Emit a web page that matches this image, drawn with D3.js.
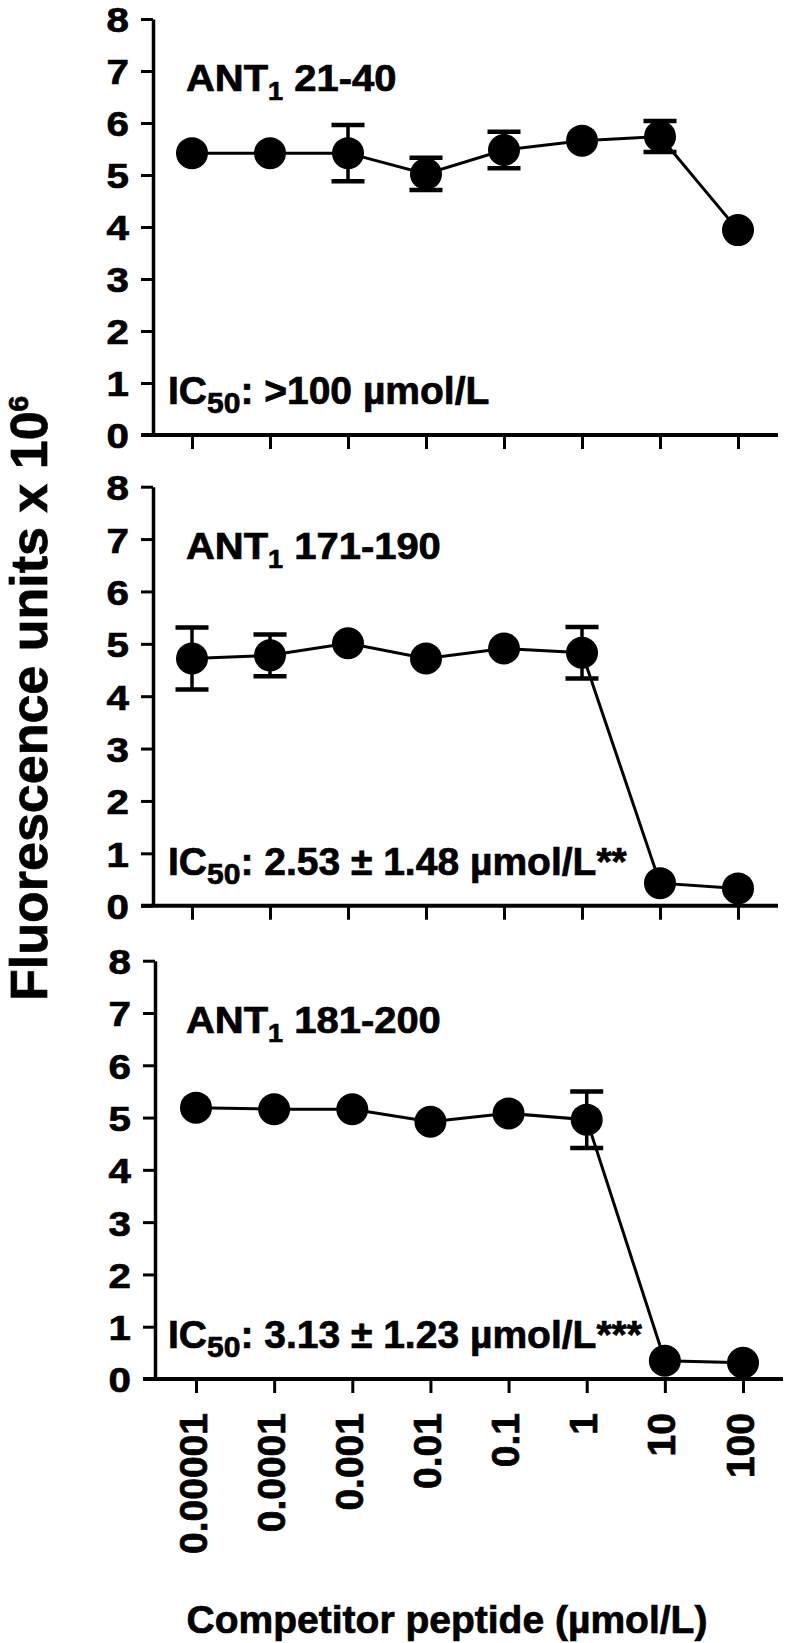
<!DOCTYPE html>
<html>
<head>
<meta charset="utf-8">
<script src="https://cdn.jsdelivr.net/npm/d3@7/dist/d3.min.js"></script>
<style>
  body { margin: 0; background: #fff; }
  text { font-family: "Liberation Sans", Arial, sans-serif; font-weight: bold; fill: #000; stroke: #000; stroke-width: 0.7px; }
</style>
</head>
<body>
<div id="chart"></div>
<script>
// competitor peptide concentrations (µmol/L)
const concentrations = [0.00001, 0.0001, 0.001, 0.01, 0.1, 1, 10, 100];
const concLabels = ["0.00001", "0.0001", "0.001", "0.01", "0.1", "1", "10", "100"];
const yTicks = [0, 1, 2, 3, 4, 5, 6, 7, 8];

const peptideNames = ["21-40", "171-190", "181-200"];
const ic50Texts = [">100 µmol/L", "2.53 ± 1.48 µmol/L**", "3.13 ± 1.23 µmol/L***"];

// fluorescence units x 10^6, mean and error
const means21 = [5.42, 5.42, 5.42, 5.02, 5.48, 5.66, 5.74, 3.94];
const err21 = [0, 0, 0.54, 0.31, 0.35, 0, 0.30, 0];
const means171 = [4.72, 4.78, 5.01, 4.72, 4.91, 4.83, 0.43, 0.33];
const err171 = [0.59, 0.40, 0, 0, 0, 0.49, 0, 0];
const means181 = [5.19, 5.16, 5.16, 4.92, 5.08, 4.96, 0.35, 0.31];
const err181 = [0, 0, 0, 0, 0, 0.54, 0, 0];

const width = 788, height = 1643;
const svg = d3.select('#chart').append('svg')
    .attr('width', width)
    .attr('height', height);
svg.append('rect').attr('width', width).attr('height', height).attr('fill', '#fff');

// where each panel sits on the page
const panels = [
    { top: 19, bottom: 435, left: 153, x0: 192, x1: 738, right: 778, means: means21, errs: err21 },
    { top: 486.7, bottom: 905.7, left: 153, x0: 192, x1: 738, right: 778, means: means171, errs: err171 },
    { top: 960.7, bottom: 1379, left: 155, x0: 196, x1: 743, right: 783, means: means181, errs: err181 }
];

panels.forEach((p, pi) => {
    const g = svg.append('g');
    const x = d3.scaleLog().domain([0.00001, 100]).range([p.x0, p.x1]);
    const y = d3.scaleLinear().domain([0, 8]).range([p.bottom, p.top]);
    const pts = concentrations.map((c, i) => ({ c: c, m: p.means[i], e: p.errs[i] }));

    // y axis
    const yAxis = g.append('g')
        .attr('transform', `translate(${p.left},0)`)
        .call(d3.axisLeft(y).tickValues(yTicks).tickSize(12).tickSizeOuter(0).tickPadding(0));
    yAxis.select('.domain').attr('stroke', '#000').attr('stroke-width', 3.5);
    yAxis.selectAll('.tick line').attr('stroke', '#000').attr('stroke-width', 3);
    yAxis.selectAll('.tick text')
        .attr('x', -24 / 1.12)
        .attr('dy', '0.36em')
        .attr('transform', 'scale(1.12,1)')
        .attr('font-size', 36);

    // x axis line (runs out past the y axis like the original)
    g.append('line')
        .attr('x1', p.left - 12).attr('x2', p.right)
        .attr('y1', p.bottom).attr('y2', p.bottom)
        .attr('stroke', '#000').attr('stroke-width', 4);

    const xAxis = g.append('g')
        .attr('transform', `translate(0,${p.bottom})`)
        .call(d3.axisBottom(x).tickValues(concentrations).tickSize(14).tickSizeOuter(0)
            .tickFormat((d, i) => concLabels[i]));
    xAxis.select('.domain').remove();
    xAxis.selectAll('.tick line').attr('stroke', '#000').attr('stroke-width', 3);
    if (pi < 2) {
        xAxis.selectAll('.tick text').remove();
    } else {
        xAxis.selectAll('.tick text')
            .attr('transform', 'rotate(-90)')
            .attr('text-anchor', 'end')
            .attr('x', -34)
            .attr('y', 0)
            .attr('dy', '0.26em')
            .attr('font-size', 39);
    }

    // connecting line
    g.append('path')
        .datum(pts)
        .attr('fill', 'none')
        .attr('stroke', '#000')
        .attr('stroke-width', 3)
        .attr('d', d3.line().x(d => x(d.c)).y(d => y(d.m)));

    // error bars
    const eb = g.selectAll('g.err')
        .data(pts.filter(d => d.e > 0))
        .join('g')
        .attr('class', 'err');
    eb.append('line')
        .attr('x1', d => x(d.c)).attr('x2', d => x(d.c))
        .attr('y1', d => y(d.m - d.e)).attr('y2', d => y(d.m + d.e))
        .attr('stroke', '#000').attr('stroke-width', 3.5);
    [1, -1].forEach(s => {
        eb.append('line')
            .attr('x1', d => x(d.c) - 16.5).attr('x2', d => x(d.c) + 16.5)
            .attr('y1', d => y(d.m + s * d.e)).attr('y2', d => y(d.m + s * d.e))
            .attr('stroke', '#000').attr('stroke-width', 4.5);
    });

    // markers
    g.selectAll('circle')
        .data(pts)
        .join('circle')
        .attr('cx', d => x(d.c))
        .attr('cy', d => y(d.m))
        .attr('r', 16)
        .attr('fill', '#000');

    // peptide title
    const title = g.append('text')
        .attr('transform', `translate(186,${p.top + 72}) scale(1.08,1)`)
        .attr('font-size', 37);
    title.append('tspan').text('ANT');
    title.append('tspan').attr('font-size', 25).attr('dy', 9).text('1');
    title.append('tspan').attr('dy', -9).text('\u00a0' + peptideNames[pi]);

    // IC50 annotation
    const ic = g.append('text')
        .attr('x', 168)
        .attr('y', p.bottom - 31)
        .attr('font-size', 39);
    ic.append('tspan').text('IC');
    ic.append('tspan').attr('font-size', 30).attr('dy', 9).text('50');
    ic.append('tspan').attr('dy', -9).text(': ' + ic50Texts[pi]);
});

// y axis title
const yLab = svg.append('text')
    .attr('transform', 'translate(47,1001) rotate(-90)')
    .attr('text-anchor', 'start')
    .attr('font-size', 52)
    .attr('stroke-width', 0.9);
yLab.append('tspan').text('Fluorescence units x 10');
yLab.append('tspan').attr('font-size', 28).attr('dy', -19).text('6');

// x axis title
svg.append('text')
    .attr('x', 447)
    .attr('y', 1633)
    .attr('text-anchor', 'middle')
    .attr('font-size', 39)
    .text('Competitor peptide (µmol/L)');
</script>
</body>
</html>
